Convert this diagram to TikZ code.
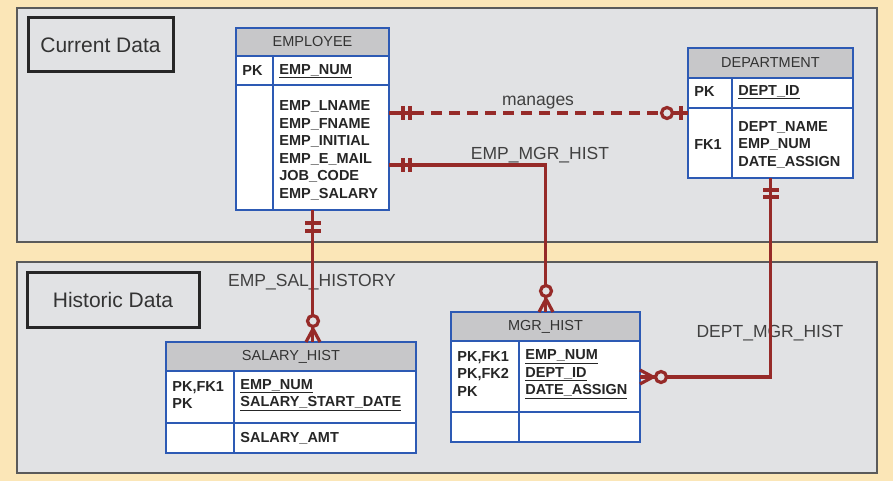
\documentclass[tikz,border=0pt]{standalone}
\usepackage{fontspec}
\setmainfont{Liberation Sans}

\definecolor{bgyellow}{RGB}{251,230,183}
\definecolor{panelgray}{RGB}{225,226,228}
\definecolor{panelline}{RGB}{90,90,90}
\definecolor{tblue}{RGB}{45,90,180}
\definecolor{headgray}{RGB}{199,199,201}
\definecolor{relred}{RGB}{150,42,40}

\tikzset{every picture/.style={line width=0.75pt},
	panel/.style={draw=panelline, fill=panelgray, line width=1.5pt},
	tagbox/.style={draw=black!85, fill=panelgray, line width=3pt, inner sep=0pt, outer sep=0pt, text=black!80, font=\fontsize{21}{25}\selectfont},
	tbody/.style={draw=tblue, fill=white, line width=1.6pt, inner sep=0pt, outer sep=0pt},
	thead/.style={draw=tblue, fill=headgray, line width=1.6pt, inner sep=0pt, outer sep=0pt, text=black!80, font=\fontsize{14.5}{17}\selectfont},
	tline/.style={draw=tblue, line width=1.6pt},
	field/.style={anchor=west, align=left, inner sep=0pt, text=black!85, font=\bfseries\fontsize{14.5}{17.5}\selectfont},
	rel/.style={draw=relred, line width=3.2pt},
	rellabel/.style={inner sep=0pt, text=black!75, font=\fontsize{17.5}{20}\selectfont},
	zero/.style={circle, draw=relred, fill=panelgray, line width=3.2pt, minimum size=11pt, inner sep=0pt},
}

\begin{document}
\begin{tikzpicture}[x=1pt,y=1pt,yscale=-1,xscale=1]
	\useasboundingbox (0,0) rectangle (893,481);
	\fill[bgyellow] (0,0) rectangle (893,481);

	%Shape: Rectangle
	\draw[panel] (17,8) rectangle (877,242);
	%Shape: Rectangle
	\draw[panel] (17,262) rectangle (877,473);

	% Text Node
	\node[tagbox, minimum width=145pt, minimum height=54pt] (current) at (100.5,45) {Current Data};
	% Text Node
	\node[tagbox, minimum width=172pt, minimum height=55pt] (historic) at (113,299.5) {Historic Data};

	% Text Node
	\node[rellabel] (manages) at (538,103) {manages};
	% Text Node
	\node[rellabel] (empmgr) at (540,155) {EMP\_MGR\_HIST};
	% Text Node
	\node[rellabel] (empsal) at (312,282) {EMP\_SAL\_HISTORY};
	% Text Node
	\node[rellabel] (deptmgr) at (770,333) {DEPT\_MGR\_HIST};

	%Table: EMPLOYEE
	\node[tbody, minimum width=153pt, minimum height=182pt] (employee) at (312.5,119) {};
	\node[thead, minimum width=153pt, minimum height=28pt, anchor=north] (employee-h) at (employee.north) {EMPLOYEE};
	\draw[tline] (236,85) -- (389,85);
	\draw[tline] (273,56) -- (273,210);
	\node[field] (employee-k) at (242,71) {PK};
	\node[field] (employee-pk) at (279,71) {\underline{EMP\_NUM}};
	\node[field] (employee-a) at (279,150.5) {EMP\_LNAME\\EMP\_FNAME\\EMP\_INITIAL\\EMP\_E\_MAIL\\JOB\_CODE\\EMP\_SALARY};

	%Table: DEPARTMENT
	\node[tbody, minimum width=165pt, minimum height=130pt] (department) at (770.5,113) {};
	\node[thead, minimum width=165pt, minimum height=30pt, anchor=north] (department-h) at (department.north) {DEPARTMENT};
	\draw[tline] (688,108) -- (853,108);
	\draw[tline] (732,78) -- (732,178);
	\node[field] (department-k) at (694,92) {PK};
	\node[field] (department-pk) at (738,92) {\underline{DEPT\_ID}};
	\node[field] (department-fk) at (694,145) {FK1};
	\node[field] (department-a) at (738,144.5) {DEPT\_NAME\\EMP\_NUM\\DATE\_ASSIGN};

	%Table: MGR_HIST
	\node[tbody, minimum width=189pt, minimum height=130pt] (mgrhist) at (545.5,377) {};
	\node[thead, minimum width=189pt, minimum height=29pt, anchor=north] (mgrhist-h) at (mgrhist.north) {MGR\_HIST};
	\draw[tline] (451,412) -- (640,412);
	\draw[tline] (519,341) -- (519,442);
	\node[field] (mgrhist-k) at (457,374) {PK,FK1\\PK,FK2\\PK};
	\node[field] (mgrhist-pk) at (525,374) {\underline{EMP\_NUM}\\\underline{DEPT\_ID}\\\underline{DATE\_ASSIGN}};

	%Table: SALARY_HIST
	\node[tbody, minimum width=250pt, minimum height=111pt] (salhist) at (291,397.5) {};
	\node[thead, minimum width=250pt, minimum height=29pt, anchor=north] (salhist-h) at (salhist.north) {SALARY\_HIST};
	\draw[tline] (166,423) -- (416,423);
	\draw[tline] (234,371) -- (234,453);
	\node[field] (salhist-k) at (172,395) {PK,FK1\\PK};
	\node[field] (salhist-pk) at (240,395) {\underline{EMP\_NUM}\\\underline{SALARY\_START\_DATE}};
	\node[field] (salhist-a) at (240,438) {SALARY\_AMT};

	%Straight Lines: manages
	\coordinate (mng-a) at ([yshift=85pt]employee.north east);
	\coordinate (mng-b) at ([yshift=65pt]department.north west);
	\draw[rel] (mng-a) -- ([xshift=24pt]mng-a);
	\draw[rel, dash pattern=on 11pt off 7pt] ([xshift=24pt]mng-a) -- ([xshift=-21pt]mng-b);
	\draw[rel] ([xshift=-15pt]mng-b) -- (mng-b);
	\draw[rel] (403,106) -- (403,120) (410,106) -- (410,120);
	\draw[rel] (681,106) -- (681,120);
	\node[zero] (mng-z) at (667,113) {};

	%Straight Lines: EMP_MGR_HIST
	\coordinate (emh-a) at ([yshift=137pt]employee.north east);
	\draw[rel] (emh-a) -| (mgrhist.north);
	\draw[rel] (403,158) -- (403,172) (410,158) -- (410,172);
	\draw[rel] (546,299) -- (539,312) (546,299) -- (553,312);
	\node[zero] (emh-z) at (546,291) {};

	%Straight Lines: EMP_SAL_HISTORY
	\draw[rel] (employee.south) -- (employee.south |- salhist.north);
	\draw[rel] (305,223) -- (321,223) (305,231) -- (321,231);
	\draw[rel] (313,329) -- (306,342) (313,329) -- (320,342);
	\node[zero] (esh-z) at (313,321) {};

	%Straight Lines: DEPT_MGR_HIST
	\coordinate (dmh-b) at ([yshift=65pt]mgrhist.north east);
	\draw[rel] (department.south) |- (dmh-b);
	\draw[rel] (763,190) -- (779,190) (763,197) -- (779,197);
	\draw[rel] (653,377) -- (640,370) (653,377) -- (640,384);
	\node[zero] (dmh-z) at (661,377) {};

\end{tikzpicture}
\end{document}
